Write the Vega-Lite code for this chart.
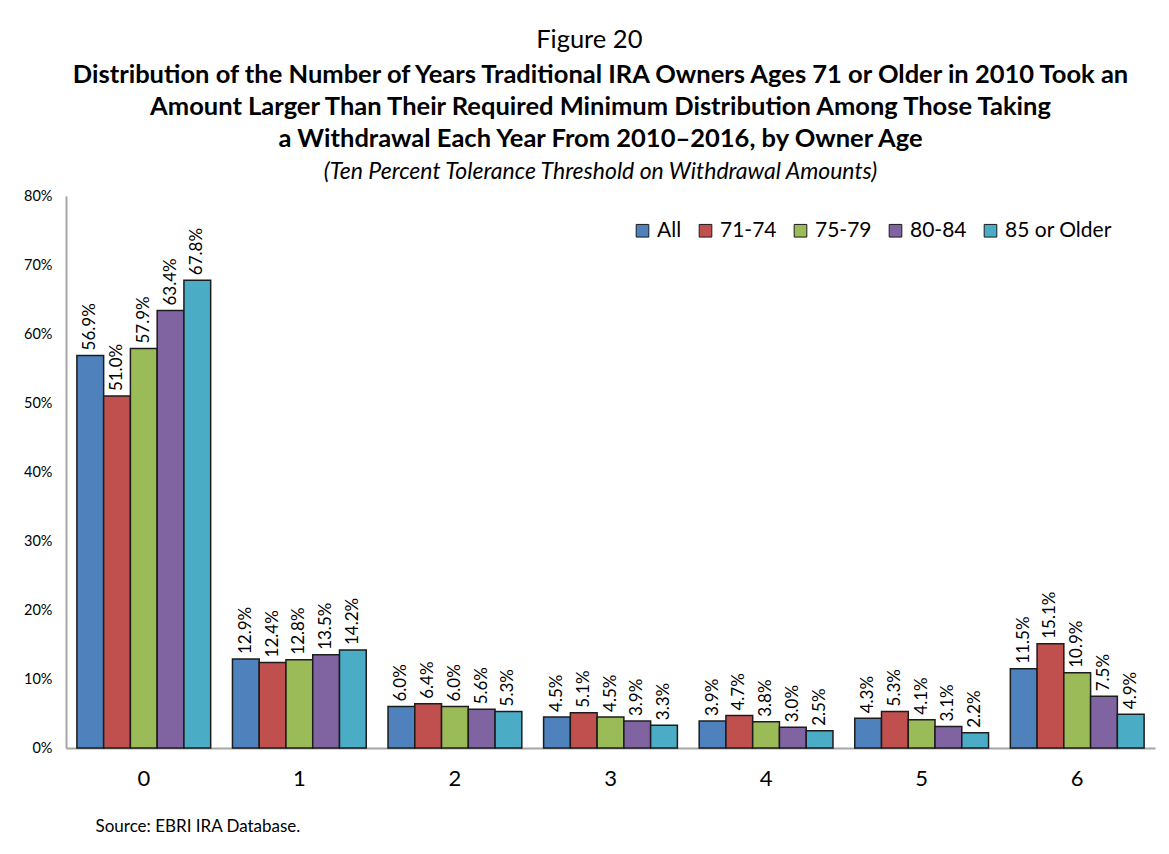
{
  "$schema": "https://vega.github.io/schema/vega-lite/v6.json",
  "background": "white",
  "padding": {"left": 23, "top": 28, "right": 10, "bottom": 10},
  "title": {
    "text": "Figure 20",
    "font": "Lato",
    "fontSize": 25.5,
    "fontWeight": "normal",
    "color": "#000000",
    "anchor": "middle",
    "offset": 9
  },
  "config": {
    "font": "Lato",
    "view": {"stroke": null}
  },
  "vconcat": [
    {
      "width": 1089,
      "height": 552,
      "title": {
        "text": [
          "Distribution of the Number of Years Traditional IRA Owners Ages 71 or Older in 2010 Took an",
          "Amount Larger Than Their Required Minimum Distribution Among Those Taking",
          "a Withdrawal Each Year From 2010\u20132016, by Owner Age"
        ],
        "subtitle": "(Ten Percent Tolerance Threshold on Withdrawal Amounts)",
        "font": "Lato",
        "fontSize": 25.5,
        "fontWeight": "bold",
        "lineHeight": 32,
        "color": "#000000",
        "subtitleFont": "Lato",
        "subtitleFontSize": 23,
        "subtitleFontStyle": "italic",
        "subtitleColor": "#000000",
        "subtitlePadding": 9,
        "anchor": "middle",
        "frame": "group",
        "dx": -10,
        "offset": 4
      },
      "data": {
        "values": [
          {"years": "0", "group": "All", "share": 0.569},
          {"years": "0", "group": "71-74", "share": 0.510},
          {"years": "0", "group": "75-79", "share": 0.579},
          {"years": "0", "group": "80-84", "share": 0.634},
          {"years": "0", "group": "85 or Older", "share": 0.678},
          {"years": "1", "group": "All", "share": 0.129},
          {"years": "1", "group": "71-74", "share": 0.124},
          {"years": "1", "group": "75-79", "share": 0.128},
          {"years": "1", "group": "80-84", "share": 0.135},
          {"years": "1", "group": "85 or Older", "share": 0.142},
          {"years": "2", "group": "All", "share": 0.060},
          {"years": "2", "group": "71-74", "share": 0.064},
          {"years": "2", "group": "75-79", "share": 0.060},
          {"years": "2", "group": "80-84", "share": 0.056},
          {"years": "2", "group": "85 or Older", "share": 0.053},
          {"years": "3", "group": "All", "share": 0.045},
          {"years": "3", "group": "71-74", "share": 0.051},
          {"years": "3", "group": "75-79", "share": 0.045},
          {"years": "3", "group": "80-84", "share": 0.039},
          {"years": "3", "group": "85 or Older", "share": 0.033},
          {"years": "4", "group": "All", "share": 0.039},
          {"years": "4", "group": "71-74", "share": 0.047},
          {"years": "4", "group": "75-79", "share": 0.038},
          {"years": "4", "group": "80-84", "share": 0.030},
          {"years": "4", "group": "85 or Older", "share": 0.025},
          {"years": "5", "group": "All", "share": 0.043},
          {"years": "5", "group": "71-74", "share": 0.053},
          {"years": "5", "group": "75-79", "share": 0.041},
          {"years": "5", "group": "80-84", "share": 0.031},
          {"years": "5", "group": "85 or Older", "share": 0.022},
          {"years": "6", "group": "All", "share": 0.115},
          {"years": "6", "group": "71-74", "share": 0.151},
          {"years": "6", "group": "75-79", "share": 0.109},
          {"years": "6", "group": "80-84", "share": 0.075},
          {"years": "6", "group": "85 or Older", "share": 0.049}
        ]
      },
      "encoding": {
        "x": {
          "field": "years",
          "type": "nominal",
          "sort": null,
          "scale": {"paddingInner": 0.14, "paddingOuter": 0.07},
          "axis": {
            "title": "Source: EBRI IRA Database.",
            "titleFont": "Lato",
            "titleFontSize": 17,
            "titleFontWeight": "normal",
            "titleColor": "#000000",
            "titleAnchor": "start",
            "titleAlign": "left",
            "titleBaseline": "alphabetic",
            "titleX": 29,
            "titleY": 83,
            "labelAngle": 0,
            "labelFont": "Lato",
            "labelFontSize": 22,
            "labelColor": "#000000",
            "labelPadding": 20,
            "ticks": false,
            "domainColor": "#a6a6a6",
            "domainWidth": 2
          }
        },
        "xOffset": {
          "field": "group",
          "type": "nominal",
          "sort": ["All", "71-74", "75-79", "80-84", "85 or Older"],
          "scale": {"paddingInner": 0, "paddingOuter": 0}
        },
        "y": {
          "field": "share",
          "type": "quantitative",
          "scale": {"domain": [0, 0.8], "nice": false},
          "axis": {
            "title": null,
            "format": ".0%",
            "values": [0, 0.1, 0.2, 0.3, 0.4, 0.5, 0.6, 0.7, 0.8],
            "grid": false,
            "ticks": false,
            "labelFont": "Lato",
            "labelFontSize": 14.5,
            "labelColor": "#000000",
            "labelPadding": 14,
            "domainColor": "#a6a6a6",
            "domainWidth": 2
          }
        }
      },
      "layer": [
        {
          "mark": {"type": "bar", "stroke": "#1c1c1c", "strokeWidth": 1.5},
          "encoding": {
            "color": {
              "field": "group",
              "type": "nominal",
              "sort": ["All", "71-74", "75-79", "80-84", "85 or Older"],
              "scale": {
                "domain": ["All", "71-74", "75-79", "80-84", "85 or Older"],
                "range": ["#4f81bd", "#c0504d", "#9bbb59", "#8064a2", "#4bacc6"]
              },
              "legend": {
                "title": null,
                "orient": "none",
                "direction": "horizontal",
                "legendX": 566,
                "legendY": 24,
                "symbolType": "square",
                "symbolSize": 160,
                "symbolStrokeColor": "#1c1c1c",
                "symbolStrokeWidth": 1,
                "symbolOpacity": 1,
                "labelFont": "Lato",
                "labelFontSize": 21,
                "labelColor": "#000000",
                "labelOffset": 4,
                "columnPadding": 13
              }
            }
          }
        },
        {
          "mark": {
            "type": "text",
            "angle": 270,
            "align": "left",
            "baseline": "middle",
            "dx": 5,
            "font": "Lato",
            "fontSize": 17,
            "color": "#000000"
          },
          "encoding": {
            "text": {"field": "share", "type": "quantitative", "format": ".1%"}
          }
        }
      ]
    }
  ]
}
